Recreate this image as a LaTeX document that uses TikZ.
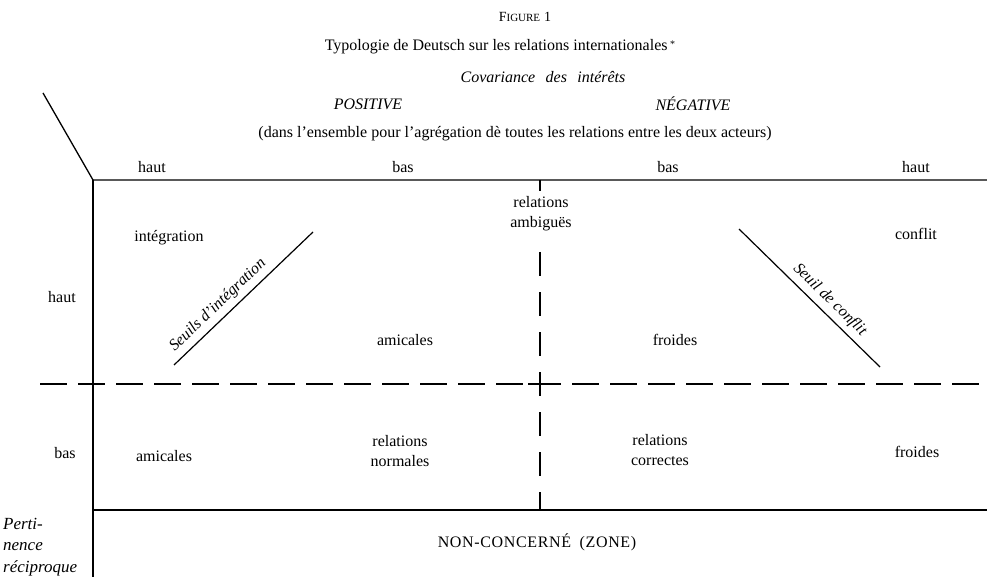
\documentclass[tikz,border=0pt]{standalone}
\usepackage{fontspec}
\setmainfont{Liberation Serif}
\begin{document}
\begin{tikzpicture}[x=1pt,y=-1pt,
  every node/.style={font=\fontsize{16}{20}\selectfont, inner sep=0pt},
  ital/.style={font=\fontsize{16}{20}\selectfont\itshape},
  frame/.style={line width=1.3pt},
  vdash/.style={line width=1.3pt, dash pattern=on 24pt off 16pt},
  hdash/.style={line width=1.3pt, dash pattern=on 27pt off 11pt},
  seuil/.style={line width=1.2pt},
]
\useasboundingbox (0,0) rectangle (987,577);
% frame coordinates
\coordinate (diagTop) at (43,93);
\coordinate (corner) at (93,180);
\coordinate (topR) at (987,180);
\coordinate (leftBot) at (93,577);
\coordinate (midTop) at (540,180);
\coordinate (midTick) at (540,191);
\coordinate (midDashTop) at (540,252);
\coordinate (midBot) at (540,510);
\coordinate (hdL) at (40,384);
\coordinate (hdR) at (987,384);
\coordinate (crossL) at (528,384);
\coordinate (crossR) at (553,384);
\coordinate (botL) at (93,510);
\coordinate (botR) at (987,510);
\coordinate (siA) at (174,365);
\coordinate (siB) at (313,232);
\coordinate (scA) at (739,229);
\coordinate (scB) at (880,367);
% lines
\draw[frame] (diagTop) -- (corner) -- (topR);
\draw[frame] (corner) -- (leftBot);
\draw[frame] (botL) -- (botR);
\draw[frame] (midTop) -- (midTick);
\draw[vdash] (midDashTop) -- (midBot);
\draw[hdash] (hdL) -- (hdR);
\draw[frame] (crossL) -- (crossR);
\draw[seuil] (siA) -- node[sloped, above=5pt, pos=0.38] (seuilI) {\itshape Seuils d'intégration} (siB);
\draw[seuil] (scA) -- node[sloped, above=5pt, pos=0.58] (seuilC) {\itshape Seuil de conflit} (scB);
% header
\node (fig) at (525,17) {{\fontsize{14}{16}\selectfont F}{\fontsize{11}{14}\selectfont IGURE} {\fontsize{14}{16}\selectfont 1}};
\node (title) at (500,47) {Typologie de Deutsch sur les relations internationales\,\raisebox{0.5ex}{\fontsize{10}{10}\selectfont *}};
\node[ital] (cov) at (543,77) {Covariance\hspace{0.4em} des\hspace{0.4em} intérêts};
\node[ital] (pos) at (368,104) {POSITIVE};
\node[ital] (neg) at (693,104) {NÉGATIVE};
\node (dans) at (515,134) {(dans l'ensemble pour l'agrégation dè toutes les relations entre les deux acteurs)};
\node (hautA) at (152,167) {haut};
\node (basA) at (403,167) {bas};
\node (basB) at (668,167) {bas};
\node (hautB) at (916,167) {haut};
% cells
\node (integ) at (169,238) {intégration};
\node[align=center] (ambig) at (541,214) {relations\\ambiguës};
\node (confl) at (916,234) {conflit};
\node (hautL) at (62,297) {haut};
\node (amicA) at (405,340) {amicales};
\node (froidA) at (675,340) {froides};
\node (basL) at (65,453) {bas};
\node (amicB) at (164,456) {amicales};
\node[align=center] (norm) at (400,451) {relations\\normales};
\node[align=center] (corr) at (660,450) {relations\\correctes};
\node (froidB) at (917,452) {froides};
\node (nonc) at (537,542) {\addfontfeatures{LetterSpace=4}NON-CONCERNÉ\hspace{0.25em} (ZONE)};
\node[ital, font=\fontsize{17}{21.5}\selectfont\itshape, align=left, anchor=north west] (pert) at (3,518) {Perti-\\nence\\réciproque};
\end{tikzpicture}
\end{document}
